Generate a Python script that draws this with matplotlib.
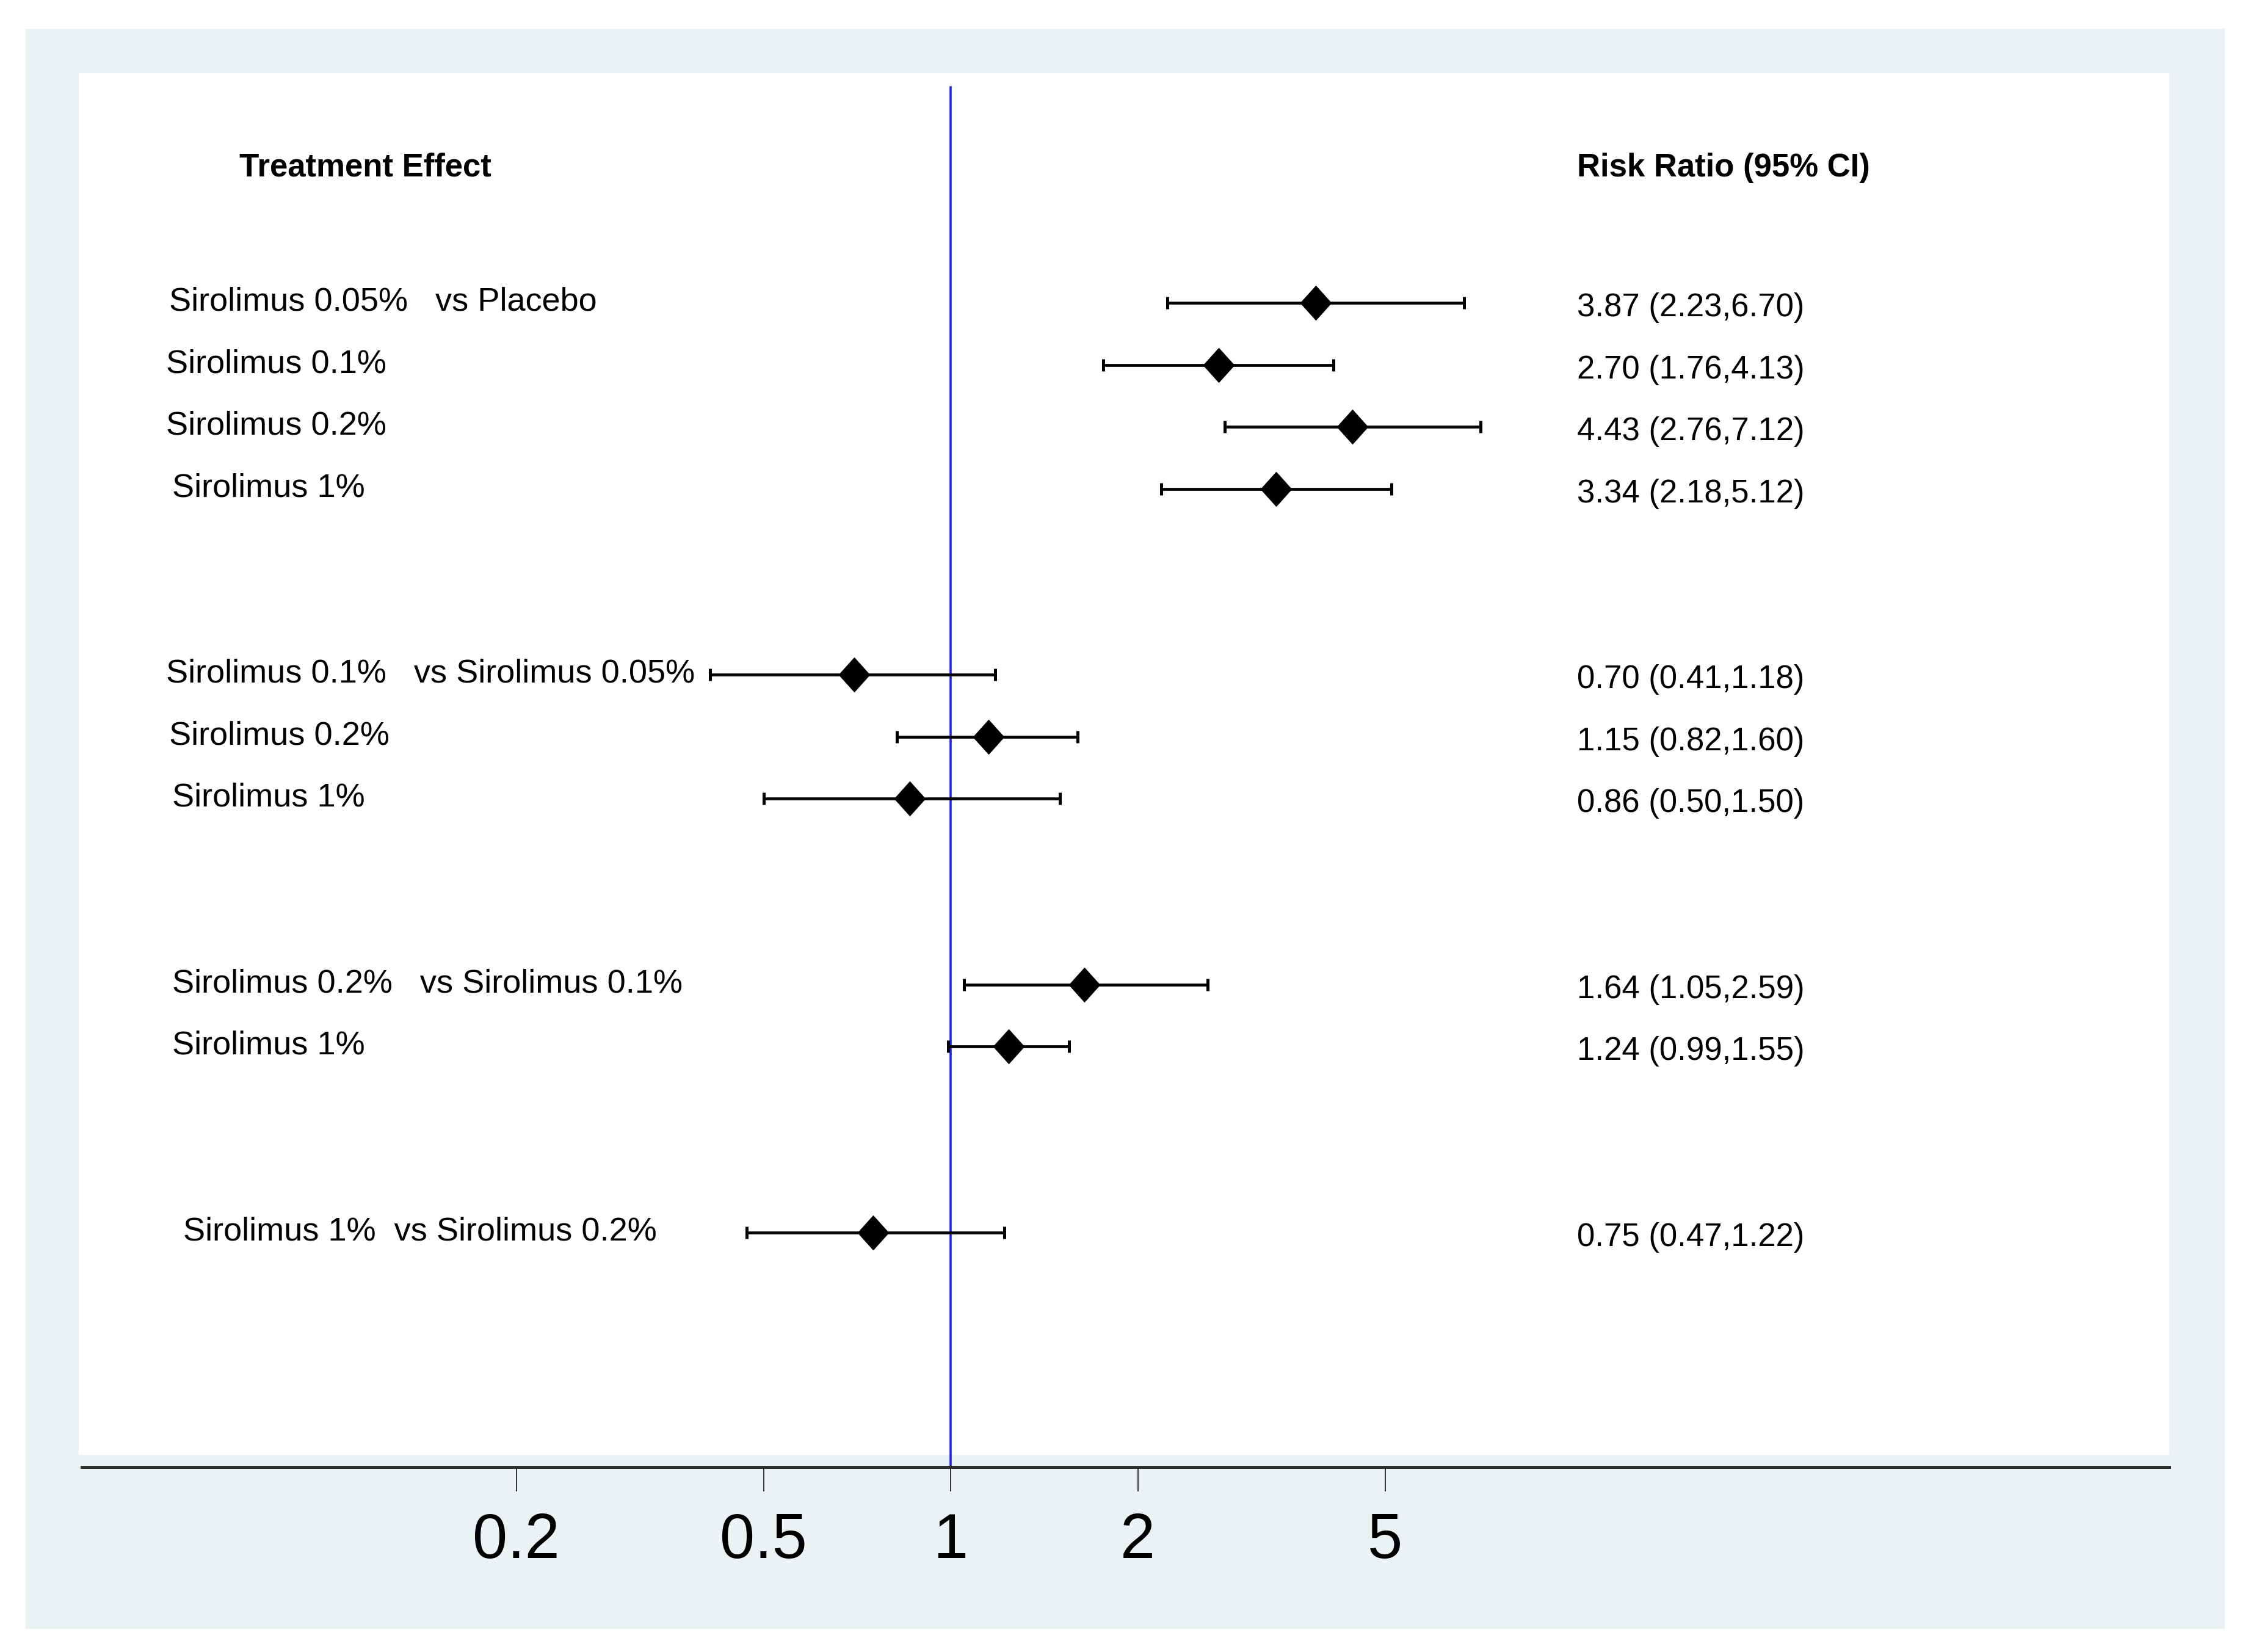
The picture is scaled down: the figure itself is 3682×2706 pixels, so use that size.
import matplotlib
matplotlib.use('Agg')
from matplotlib import pyplot as plt
from matplotlib.path import Path
from matplotlib.patches import Rectangle

plt.rcParams['font.family'] = ['Liberation Sans', 'DejaVu Sans']

# data
labels = ['Sirolimus 0.05%   vs Placebo', 'Sirolimus 0.1%', 'Sirolimus 0.2%', 'Sirolimus 1%',
          'Sirolimus 0.1%   vs Sirolimus 0.05%', 'Sirolimus 0.2%', 'Sirolimus 1%',
          'Sirolimus 0.2%   vs Sirolimus 0.1%', 'Sirolimus 1%',
          'Sirolimus 1%  vs Sirolimus 0.2%']
rr = [3.87, 2.70, 4.43, 3.34, 0.70, 1.15, 0.86, 1.64, 1.24, 0.75]
lo = [2.23, 1.76, 2.76, 2.18, 0.41, 0.82, 0.50, 1.05, 0.99, 0.47]
hi = [6.70, 4.13, 7.12, 5.12, 1.18, 1.60, 1.50, 2.59, 1.55, 1.22]
rows = [0, 1, 2, 3, 6, 7, 8, 11, 12, 15]
xticks = [0.2, 0.5, 1, 2, 5]

# layout (pixels of the 3682x2706 picture)
W, H = 3682, 2706
label_px = [277, 272, 272, 282, 272, 277, 282, 282, 282, 300]
ax_l, ax_r, ax_t, ax_b = 134, 3553, 120, 2403

fig = plt.figure(figsize=(W / 100, H / 100), dpi=100, facecolor='white')
fig.patches.append(Rectangle((42 / W, 1 - 2668 / H), (3644 - 42) / W, (2668 - 47) / H,
                             transform=fig.transFigure, facecolor='#EAF2F3', edgecolor='none', zorder=-10))
fig.patches.append(Rectangle((129 / W, 1 - 2383 / H), (3553 - 129) / W, (2383 - 120) / H,
                             transform=fig.transFigure, facecolor='white', edgecolor='none', zorder=-9))

ax = fig.add_axes([ax_l / W, 1 - ax_b / H, (ax_r - ax_l) / W, (ax_b - ax_t) / H])
ax.set_facecolor('none')
ax.set_xscale('log')
ax.set_xlim(0.04, 91.3)
ax.set_ylim((ax_b - 496) / 101.5, (ax_t - 496) / 101.5)

ax.axvline(1, ymin=0, ymax=0.99, color='#2020FF', lw=2.6, zorder=1)

xerr = [[r - l for r, l in zip(rr, lo)], [h - r for r, h in zip(rr, hi)]]
ax.errorbar(rr, rows, xerr=xerr, fmt='none', ecolor='black', elinewidth=3.4,
            capsize=7.5, capthick=3.6, zorder=2)
diamond = Path([(0, 1), (0.9, 0), (0, -1), (-0.9, 0), (0, 1)],
               [Path.MOVETO, Path.LINETO, Path.LINETO, Path.LINETO, Path.CLOSEPOLY])
ax.plot(rr, rows, ls='none', marker=diamond, ms=40, color='black', zorder=3)

def fx(px):
    return (px - ax_l) / (ax_r - ax_l)

tr = ax.get_yaxis_transform()
for lab, r, px in zip(labels, rows, label_px):
    ax.text(fx(px), r - 0.01, lab, transform=tr, fontsize=39, va='center', ha='left')
for r, a, b, c in zip(rows, rr, lo, hi):
    ax.text(fx(2583), r + 0.08, '%.2f (%.2f,%.2f)' % (a, b, c), transform=tr, fontsize=38,
            va='center', ha='left')

ax.text(fx(392), -2.18, 'Treatment Effect', transform=tr, fontsize=38, fontweight='bold', va='center')
ax.text(fx(2583), -2.18, 'Risk Ratio (95% CI)', transform=tr, fontsize=38, fontweight='bold', va='center')

for s in ['left', 'right', 'top']:
    ax.spines[s].set_visible(False)
ax.spines['bottom'].set_color('#303030')
ax.spines['bottom'].set_linewidth(3.6)
ax.set_yticks([])
ax.set_xticks(xticks)
ax.set_xticklabels(['0.2', '0.5', '1', '2', '5'])
ax.minorticks_off()
ax.tick_params(axis='x', which='major', direction='out', length=29, width=1.1, color='black', pad=24)
for t in ax.get_xticklabels():
    t.set_fontsize(74)

fig.savefig('out.png', dpi=100, facecolor='white')
